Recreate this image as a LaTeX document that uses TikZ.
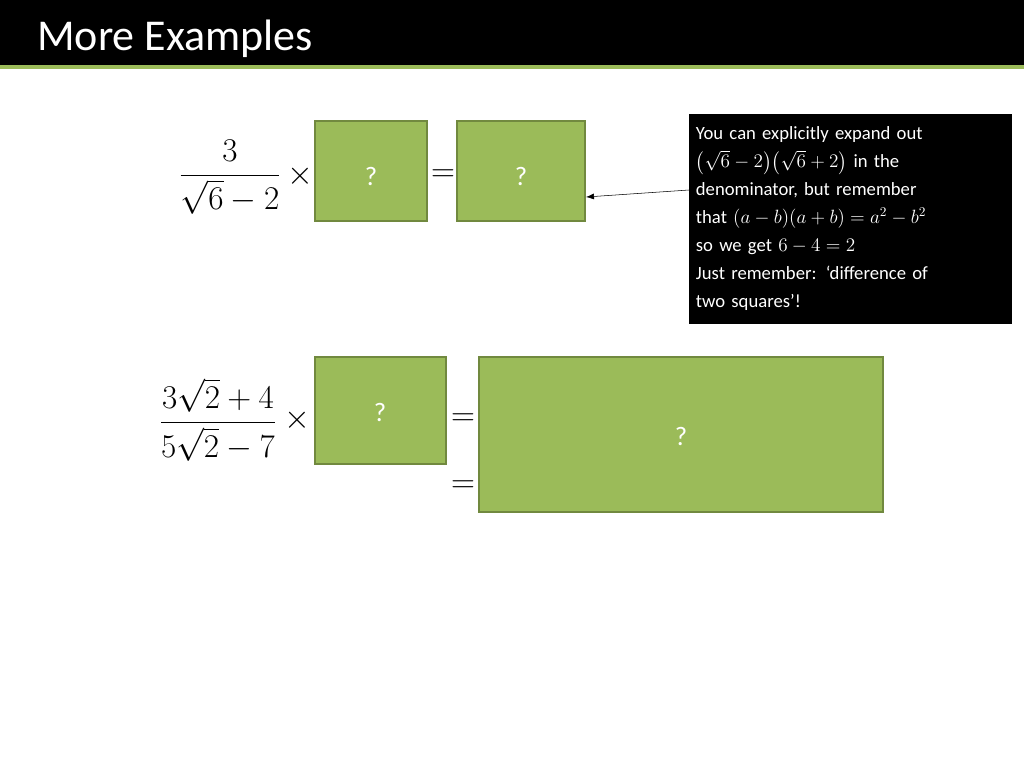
\documentclass[tikz,border=0pt]{standalone}
\usepackage{amsmath}
\usepackage{fontspec}
\setmainfont{Carlito}
\usetikzlibrary{arrows.meta}
\definecolor{boxgreen}{RGB}{155,187,89}
\definecolor{boxedge}{RGB}{113,137,63}
\tikzstyle{answer}=[
        draw=boxedge,
        fill=boxgreen,
        line width=1.5pt
]
\begin{document}
\begin{tikzpicture}[x=0.75pt,y=-0.75pt]
                    \useasboundingbox (0,0) rectangle (1024,768);
                    \fill[black] (0,0) rectangle (1024,65);
                    \fill[boxgreen] (0,65) rectangle (1024,69);
                    \node[anchor=base west,text=white,font=\fontsize{33}{38}\selectfont,inner sep=0pt] (title) at (37,50) {More Examples};

                    \node (frac1) at (230,177) {\fontsize{25}{30}\selectfont$\dfrac{3}{\sqrt{6}-2}$};
                    \node (times1) at (300,176) {\fontsize{24}{28}\selectfont$\times$};
                    \draw[answer] (315,121) rectangle (427,221);
                    \node[text=white,font=\fontsize{20}{24}\selectfont] (q1) at (371,176) {?};
                    \node (eq1) at (443,176) {\fontsize{24}{28}\selectfont$=$};
                    \draw[answer] (457,121) rectangle (585,221);
                    \node[text=white,font=\fontsize{20}{24}\selectfont] (q2) at (521,176) {?};
                    \coordinate (target) at (586,197);

                    \node[fill=black,text=white,anchor=north west,minimum width=242pt,minimum height=157pt,
                          text width=232pt,inner sep=5pt,align=left,
                          font=\fontsize{14}{21}\selectfont] (note) at (689,114)
                          {You can explicitly expand out\\
                           $\bigl(\sqrt{6}-2\bigr)\bigl(\sqrt{6}+2\bigr)$ in the\\
                           denominator, but remember\\
                           that $(a-b)(a+b)=a^2-b^2$\\
                           so we get $6-4=2$\\
                           Just remember: ‘difference of\\
                           two squares’!};
                    \draw[-{Latex[length=6pt]}] (689,190) -- (target);

                    \node (frac2) at (218,420) {\fontsize{25}{30}\selectfont$\dfrac{3\sqrt{2}+4}{5\sqrt{2}-7}$};
                    \node (times2) at (297,420) {\fontsize{24}{28}\selectfont$\times$};
                    \draw[answer] (315,357) rectangle (446,464);
                    \node[text=white,font=\fontsize{20}{24}\selectfont] (q3) at (380,412) {?};
                    \node (eq2) at (463,420) {\fontsize{24}{28}\selectfont$=$};
                    \node (eq3) at (463,487) {\fontsize{24}{28}\selectfont$=$};
                    \draw[answer] (479,357) rectangle (883,512);
                    \node[text=white,font=\fontsize{20}{24}\selectfont] (q4) at (681,436) {?};
                \end{tikzpicture}
\end{document}
